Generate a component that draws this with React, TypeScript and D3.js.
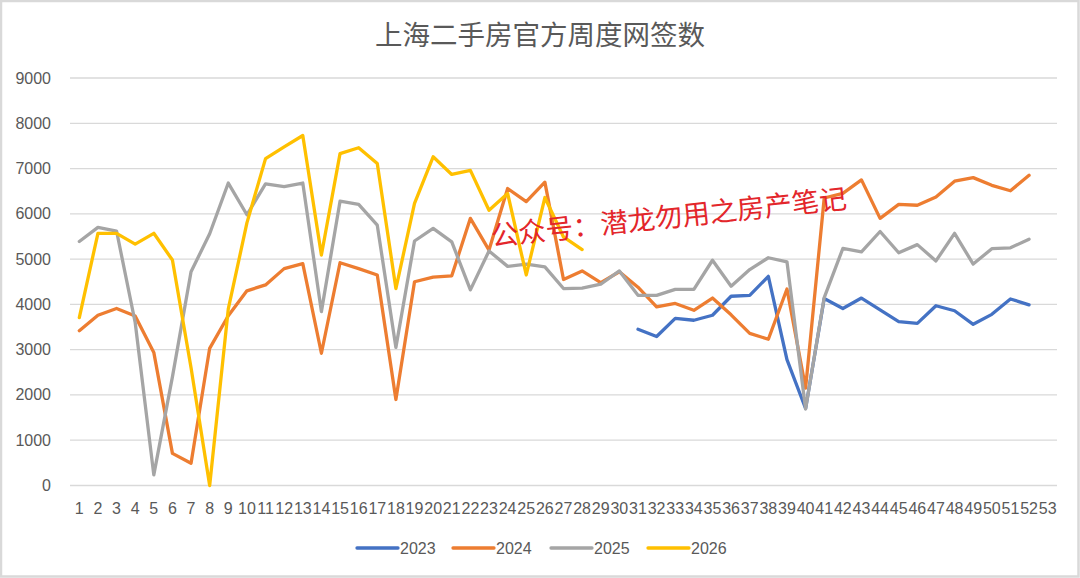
import { useEffect } from 'react';
import * as d3 from 'd3';

// chart values
const weeks = [
  1, 2, 3, 4, 5, 6, 7, 8, 9, 10, 11, 12, 13, 14, 15, 16, 17, 18, 19, 20,
  21, 22, 23, 24, 25, 26, 27, 28, 29, 30, 31, 32, 33, 34, 35, 36, 37, 38, 39, 40,
  41, 42, 43, 44, 45, 46, 47, 48, 49, 50, 51, 52, 53,
];

const yTicks = [0, 1000, 2000, 3000, 4000, 5000, 6000, 7000, 8000, 9000];

// 2023 starts at week 31
const start2023 = 31;
const v2023 = [
  3450, 3290, 3690, 3650, 3760, 4180, 4200, 4620, 2780, 1700, 4130, 3910,
  4140, 3880, 3620, 3580, 3970, 3860, 3560, 3780, 4120, 3990,
];

const v2024 = [
  3420, 3760, 3910, 3745, 2940, 710, 490, 3030, 3750, 4300, 4430, 4790, 4900,
  2920, 4920, 4790, 4650, 1900, 4500, 4600, 4630, 5900, 5200, 6560, 6270, 6700,
  4550, 4740, 4480, 4720, 4380, 3945, 4020, 3870, 4140, 3770, 3360, 3230, 4340,
  2150, 6350, 6450, 6750, 5900, 6210, 6190, 6370, 6720, 6800, 6630, 6510, 6850,
];

const v2025 = [
  5390, 5700, 5620, 3600, 235, 2400, 4720, 5560, 6680, 5980, 6660, 6600, 6680,
  3840, 6280, 6210, 5750, 3050, 5400, 5680, 5380, 4320, 5180, 4840, 4890, 4830,
  4350, 4360, 4445, 4740, 4200, 4200, 4330, 4330, 4975, 4400, 4770, 5030, 4940,
  1690, 4150, 5235, 5160, 5610, 5140, 5320, 4960, 5570, 4890, 5230, 5250, 5440,
];

const v2026 = [
  3710, 5570, 5570, 5330, 5570, 4980, 2600, 0, 3900, 5800, 7220, 7480, 7730,
  5090, 7330, 7460, 7110, 4350, 6230, 7260, 6870, 6960, 6080, 6450, 4650, 6360,
  5490, 5210,
];

const seriesNames = ['2023', '2024', '2025', '2026'];
const seriesColors = ['#4472C4', '#ED7D31', '#A5A5A5', '#FFC000'];

const title = '上海二手房官方周度网签数';
const watermark = '公众号：潜龙勿用之房产笔记';

interface Pt {
  week: number;
  value: number;
}

const toPoints = (start: number, values: number[]): Pt[] =>
  values.map((v, i) => ({ week: start + i, value: v }));

const series = [
  toPoints(start2023, v2023),
  toPoints(1, v2024),
  toPoints(1, v2025),
  toPoints(1, v2026),
];

const W = 1080;
const H = 578;
const font = '"Liberation Sans", Arial, sans-serif';
const cjk = '"Noto Sans CJK SC", sans-serif';

export default function App() {
  useEffect(() => {
    document.body.style.margin = '0';
  }, []);

  const x = d3.scaleBand<number>()
    .domain(weeks)
    .range([70, 1057]);
  const cx = (w: number) => (x(w) ?? 0) + x.bandwidth() / 2;

  const y = d3.scaleLinear()
    .domain([0, 9000])
    .range([485.5, 78]);

  const line = d3.line<Pt>()
    .x(d => cx(d.week))
    .y(d => y(d.value));

  // legend layout
  const legendX = [357, 453, 551, 648];
  const legendY = 548;

  return (
    <svg width={W} height={H} style={{ display: 'block', background: '#fff' }}>
      <rect x={1} y={1} width={W - 2.5} height={H - 2.5} fill="#fff" stroke="#d9d9d9" strokeWidth={2.5} />

      <text x={540} y={45} textAnchor="middle" fontFamily={cjk} fontSize={27.5} fill="#595959">
        {title}
      </text>

      {/* grid */}
      <g>
        {yTicks.map(t => (
          <line key={t} x1={70} x2={1057} y1={y(t)} y2={y(t)} stroke="#d9d9d9" strokeWidth={1.3} />
        ))}
      </g>

      {/* y labels */}
      <g fontFamily={font} fontSize={16} fill="#595959" textAnchor="end">
        {yTicks.map(t => (
          <text key={t} x={51} y={y(t) + 5.5}>{t}</text>
        ))}
      </g>

      {/* x labels */}
      <g fontFamily={font} fontSize={16} fill="#595959" textAnchor="middle">
        {weeks.map(w => (
          <text key={w} x={cx(w)} y={514}>{w}</text>
        ))}
      </g>

      {/* series */}
      <g fill="none" strokeWidth={3.3} strokeLinejoin="round" strokeLinecap="round">
        {series.map((s, i) => (
          <path key={seriesNames[i]} d={line(s) ?? ''} stroke={seriesColors[i]} />
        ))}
      </g>

      {/* watermark */}
      <text
        x={492}
        y={246}
        transform="rotate(-6.1 492 246)"
        fontFamily={cjk}
        fontSize={27.5}
        fill="#e3262b"
      >
        {watermark}
      </text>

      {/* legend */}
      <g fontFamily={font} fontSize={16} fill="#595959">
        {seriesNames.map((n, i) => (
          <g key={n}>
            <line
              x1={legendX[i]} x2={legendX[i] + 41}
              y1={legendY} y2={legendY}
              stroke={seriesColors[i]} strokeWidth={3.3} strokeLinecap="round"
            />
            <text x={legendX[i] + 43} y={legendY + 6}>{n}</text>
          </g>
        ))}
      </g>
    </svg>
  );
}
